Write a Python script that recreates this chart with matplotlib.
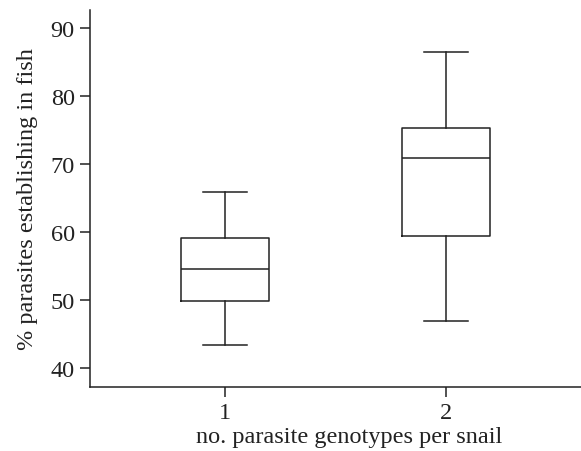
import matplotlib
matplotlib.use("Agg")
import matplotlib.pyplot as plt

plt.rcParams["font.family"] = ["Liberation Serif", "DejaVu Serif"]

# box statistics
groups = ["1", "2"]
whislo = [43.3, 46.9]
q1 = [49.8, 59.4]
med = [54.5, 70.8]
q3 = [59.1, 75.3]
whishi = [65.9, 86.4]

stats = []
for i in range(len(groups)):
    stats.append({"label": groups[i], "whislo": whislo[i], "q1": q1[i],
                  "med": med[i], "q3": q3[i], "whishi": whishi[i], "fliers": []})

fig = plt.figure(figsize=(5.81, 4.52), dpi=100)
ax = fig.add_axes([0.155, 0.1416, 0.845, 0.834])

lw = 1.1
ax.bxp(stats, positions=[1, 2], widths=0.4, showfliers=False,
       boxprops=dict(color="#222222", linewidth=lw),
       medianprops=dict(color="#222222", linewidth=lw),
       whiskerprops=dict(color="#222222", linewidth=lw),
       capprops=dict(color="#222222", linewidth=lw),
       capwidths=0.2)

ax.set_xlim(0.39, 2.61)
ax.set_ylim(37.2, 92.6)
ax.set_yticks([40, 50, 60, 70, 80, 90])
ax.set_xticks([1, 2])
ax.set_xticklabels(groups)
for s in ["top", "right"]:
    ax.spines[s].set_visible(False)
for s in ["left", "bottom"]:
    ax.spines[s].set_linewidth(1.1)
    ax.spines[s].set_color("#222222")
ax.tick_params(direction="out", length=7, width=1.1, color="#222222",
               labelsize=17.5, labelcolor="#222222", pad=4)
ax.set_xlabel("no. parasite genotypes per snail", fontsize=17.5, color="#222222")
ax.set_ylabel("% parasites establishing in fish", fontsize=17.5, color="#222222")
ax.xaxis.set_label_coords(0.527, -0.104)
ax.yaxis.set_label_coords(-0.106, 0.5)

fig.savefig("out.png", dpi=100)
